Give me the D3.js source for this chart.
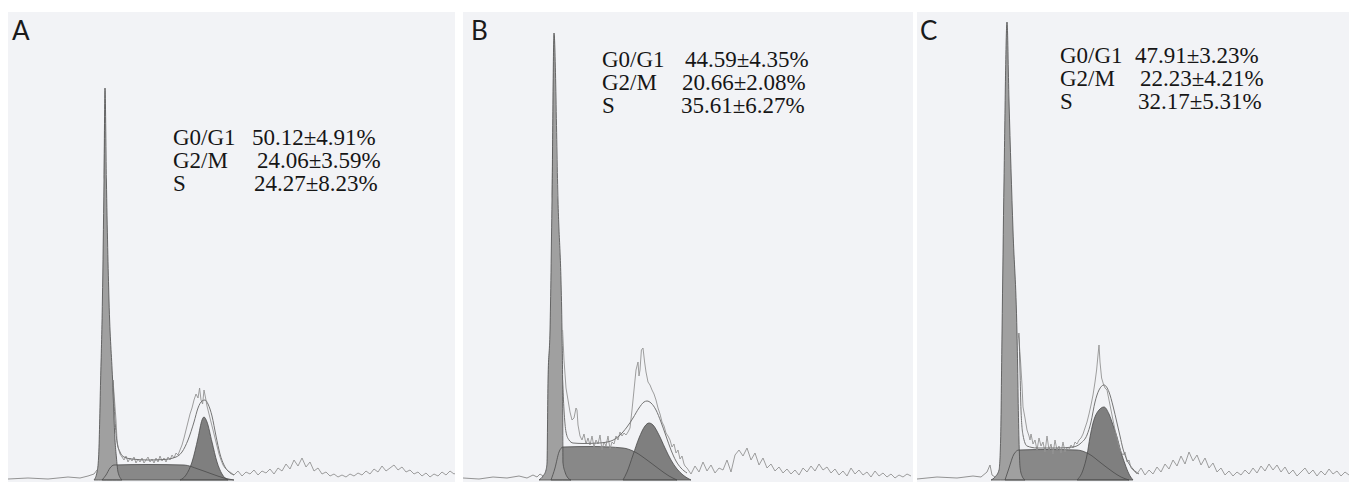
<!DOCTYPE html>
<html>
<head>
<meta charset="utf-8">
<script src="https://cdn.jsdelivr.net/npm/d3@7"></script>
<style>
html, body { margin: 0; padding: 0; background: #fff; }
svg { display: block; }
.stat { font-family: "Liberation Serif", "Times New Roman", serif; font-size: 23px; fill: #161616; }
.tag { font-family: Lato, "Open Sans", sans-serif; font-size: 26px; fill: #1a1a1a; }
</style>
</head>
<body>
<svg></svg>
<script>
// Panel letters and the phase labels
const tags = ["A", "B", "C"];
const phases = ["G0/G1", "G2/M", "S"];
const statsA = ["50.12±4.91%", "24.06±3.59%", "24.27±8.23%"];
const statsB = ["44.59±4.35%", "20.66±2.08%", "35.61±6.27%"];
const statsC = ["47.91±3.23%", "22.23±4.21%", "32.17±5.31%"];

// Histogram components, [channel, count]
const g1A = [[43,0],[44.5,8],[45.3,23],[46.3,100],[47.2,180],[48,300],[48.5,392],[49.2,300],[50.5,180],[52.3,100],[53.5,40],[54.2,23],[55,8],[57,0]];
const sA = [[47,0],[49,5],[51,12],[53,15],[70,15.5],[88,15],[95,11],[102,6],[108,2],[113,0]];
const g2A = [[86,0],[89,5],[92,18],[95,42],[97,60],[98,63],[99.5,58],[102,38],[104.5,18],[107,6],[110,0]];
const fitA = [[52.5,100],[53.5,60],[54.5,38],[56,28],[58,23],[62,21],[70,20],[78,20.5],[84,23],[87,28],[90,40],[93,58],[95,72],[97,79],[98.5,80],[100,76],[102,64],[104,44],[106,26],[108,15],[110,9],[113,5]];
const preA = [[0,1],[10,2],[20,1],[30,3],[36,2],[40,4],[43,6],[44.5,10]];
const rawA = [[52.5,100],[54,60],[54.5,40],[55,33],[56,26],[57,23],[58,20],[59,24],[60,18],[61,22],[62,19],[63,23],[64,17],[65,21],[66,18],[67,22],[68,17],[69,20],[70,23],[71,18],[72,21],[73,17],[74,22],[75,18],[76,24],[77,19],[78,22],[79,18],[80,23],[81,20],[82,25],[83,22],[84,27],[85,25],[86,30],[87,35],[88,42],[89,50],[90,58],[91,66],[92,72],[93,80],[94,86],[95,82],[95.8,92],[96.5,80],[97.3,76],[98,90],[98.8,82],[99.5,74],[100.5,66],[101.5,58],[102.5,50],[103.5,42],[104.5,34],[105.5,26],[106.5,20],[107.5,15],[108.5,12],[110,9]];
const tailStartA = 111;
const tailA = [8,5,9,4,8,6,10,5,9,7,11,6,12,9,16,11,20,14,22,13,18,9,12,6,8,4,6,3,5,3,6,4,7,5,9,6,11,8,14,9,12,15,10,13,8,10,6,8,4,7,3,6,4,8,5,9,6,8];

const g1B = [[38,0],[40,4],[41.5,10],[42,17],[42.5,100],[43.5,150],[44.5,280],[45.5,447],[47.5,280],[49.5,150],[49.8,100],[50,17],[51,8],[52.5,2],[54,0]];
const sB = [[44,0],[46,12],[48,28],[50,33],[65,33.5],[80,32],[86,28],[92,20],[98,11],[103,4],[107,0]];
const g2B = [[80,0],[82,8],[85,25],[88,42],[91,54],[93,57],[95,55],[98,45],[101,32],[104,20],[107,11],[110,5],[114,0]];
const fitB = [[49.8,100],[50.5,70],[51.5,48],[53,40],[55,37],[60,36.5],[68,37],[74,39],[78,44],[82,53],[85,62],[88,72],[90.5,78],[92,79],[94,77],[96.5,70],[99,58],[101.5,44],[104,30],[106.5,19],[109,12],[112,7]];
const preB = [[0,2],[8,1],[15,3],[22,2],[28,4],[32,2],[35,5],[37,3],[38.5,6],[40,4]];
const rawB = [[49.8,150],[50.5,120],[51.5,92],[52.5,80],[53.5,68],[54.5,60],[55.5,62],[56.5,72],[57,70],[57.5,55],[58.5,44],[59.5,40],[60.5,46],[61.5,36],[62.5,42],[63.5,35],[64.5,44],[65.5,33],[66.5,40],[67.5,36],[68.5,45],[69.5,30],[70.5,38],[71.5,34],[72.5,44],[73.5,31],[74.5,38],[75.5,36],[76.5,44],[77.5,40],[78.5,48],[79.5,44],[80.5,47],[81.5,45],[82.5,48],[83.5,52],[84.5,70],[85.5,90],[86.5,110],[87.5,118],[88,104],[88.5,110],[89.2,130],[90,132],[90.8,118],[91.5,108],[92.5,98],[93.5,95],[94.5,90],[95.5,86],[96.5,80],[97.5,72],[98.5,66],[99.5,58],[100.5,54],[101.5,47],[102.5,44],[103.5,40],[104.5,33],[105.5,36],[106.5,27],[107.5,30],[108.5,21],[109.5,24],[110.5,16],[111,14]];
const tailStartB = 112;
const tailB = [12,6,14,8,18,9,15,7,12,10,20,8,25,30,24,32,20,27,15,22,12,16,9,13,7,11,6,10,5,12,8,14,9,16,10,13,7,11,5,9,4,12,6,10,5,8,3,9,4,7,3,6,2,5,3,6,4];

const g1C = [[37,0],[39,3],[41,10],[41.8,40],[42.5,147],[43.5,300],[45,458],[46,380],[48,250],[50,147],[51,40],[51.5,13],[52.5,4],[54,0]];
const sC = [[44,0],[46,12],[48.5,26],[51,30],[65,30.5],[80,30],[86,26],[92,17],[98,8],[102,3],[106,0]];
const g2C = [[80,0],[83,10],[85,25],[86.5,43],[88,57],[91,70],[93.5,73],[96,66],[98,55],[100,43],[102,28],[104,16],[106,6],[108,0]];
const fitC = [[51,147],[51.5,110],[52,70],[53,45],[55,34],[60,32],[70,32],[78,33],[82,37],[85,45],[87,58],[89,78],[91,90],[93.5,95],[96,88],[98,74],[100,57],[101.5,44],[103,31],[105,20],[108,11],[111,6]];
const preC = [[0,1],[10,3],[20,2],[28,4],[32,3],[35,8],[36.5,15],[37.5,5],[39,3]];
const rawC = [[50.5,147],[51,140],[51.8,118],[52.5,95],[53,73],[54,62],[55,50],[56,44],[56.5,40],[57,46],[58,36],[59,40],[60,30],[61,42],[62,34],[63,38],[64,28],[65,44],[66,30],[67,36],[68,26],[69,40],[70,30],[71,34],[72,27],[73,38],[74,28],[75,33],[76,30],[77,35],[78,32],[79,38],[80,36],[81,40],[82,42],[83,46],[84,52],[85,58],[86,66],[87,75],[88,85],[89,98],[89.8,110],[90.5,125],[91,135],[91.5,118],[92.3,102],[93.2,96],[94,92],[95,90],[96,80],[97,70],[98,60],[99,50],[100,42],[101,34],[102,28],[103,25],[104,28],[105,18],[106,20],[107,12]];
const tailStartC = 108;
const tailC = [10,6,12,5,10,6,13,8,16,11,20,14,24,16,28,19,25,15,22,12,17,8,12,5,9,4,8,5,10,6,12,7,14,9,16,10,15,8,13,6,10,4,8,12,6,10,4,9,5,11,6,9,4,8,5];

const W = 1349, H = 482;
const svg = d3.select("svg").attr("width", W).attr("height", H);

// panel frames (scanned paper areas)
const layout = [
    { left: 8, right: 455, tagX: 12, textX: 173, valX: [252, 257, 254], textY: 145 },
    { left: 463, right: 913, tagX: 471, textX: 602, valX: [685, 682, 681], textY: 67 },
    { left: 917, right: 1349, tagX: 920, textX: 1060, valX: [1135, 1140, 1138], textY: 63 }
];
const panelData = [
    { g1: g1A, s: sA, g2: g2A, fit: fitA, pre: preA, raw: rawA, tail: tailA, tailStart: tailStartA, stats: statsA },
    { g1: g1B, s: sB, g2: g2B, fit: fitB, pre: preB, raw: rawB, tail: tailB, tailStart: tailStartB, stats: statsB },
    { g1: g1C, s: sC, g2: g2C, fit: fitC, pre: preC, raw: rawC, tail: tailC, tailStart: tailStartC, stats: statsC }
];

const y = d3.scaleLinear().domain([0, 480]).range([480, 0]);

layout.forEach((L, i) => {
    const P = panelData[i];
    const x = d3.scaleLinear().domain([0, 225]).range([L.left, L.left + 450]);
    const clipId = "clip" + i;
    svg.append("clipPath").attr("id", clipId)
        .append("rect").attr("x", L.left).attr("y", 12).attr("width", L.right - L.left).attr("height", H - 12);

    const g = svg.append("g");
    g.append("rect")
        .attr("x", L.left).attr("y", 12)
        .attr("width", L.right - L.left).attr("height", H - 12)
        .attr("fill", "#f2f3f6");

    const plot = g.append("g").attr("clip-path", `url(#${clipId})`);
    const area = d3.area().x(d => x(d[0])).y0(y(0)).y1(d => y(d[1])).curve(d3.curveMonotoneX);
    const smooth = d3.line().x(d => x(d[0])).y(d => y(d[1])).curve(d3.curveMonotoneX);
    const jag = d3.line().x(d => x(d[0])).y(d => y(d[1]));

    // filled model components
    plot.append("path").attr("d", area(P.s)).attr("fill", "#888888");
    plot.append("path").attr("d", area(P.g2)).attr("fill", "#7f7f7f");
    plot.append("path").attr("d", area(P.g1)).attr("fill", "#a0a0a0");
    [P.s, P.g2, P.g1].forEach(c => {
        plot.append("path").attr("d", area(c)).attr("fill", "none")
            .attr("stroke", "#4a4a4a").attr("stroke-width", 0.8);
    });

    // raw histogram (thin, jagged) incl. the debris tail
    const tailPts = P.tail.map((v, k) => [P.tailStart + k * 2, v]);
    plot.append("path").attr("d", jag(P.pre)).attr("fill", "none")
        .attr("stroke", "#888").attr("stroke-width", 0.9);
    plot.append("path").attr("d", jag(P.raw.concat(tailPts))).attr("fill", "none")
        .attr("stroke", "#939393").attr("stroke-width", 0.9);

    // fitted sum
    plot.append("path").attr("d", smooth(P.fit)).attr("fill", "none")
        .attr("stroke", "#747474").attr("stroke-width", 1);

    // panel letter
    g.append("text").attr("class", "tag").attr("x", L.tagX).attr("y", 40).text(tags[i]);

    // statistics block
    phases.forEach((ph, k) => {
        g.append("text").attr("class", "stat")
            .attr("x", L.textX).attr("y", L.textY + k * 23).text(ph);
        g.append("text").attr("class", "stat")
            .attr("x", L.valX[k]).attr("y", L.textY + k * 23).text(P.stats[k]);
    });
});
</script>
</body>
</html>
